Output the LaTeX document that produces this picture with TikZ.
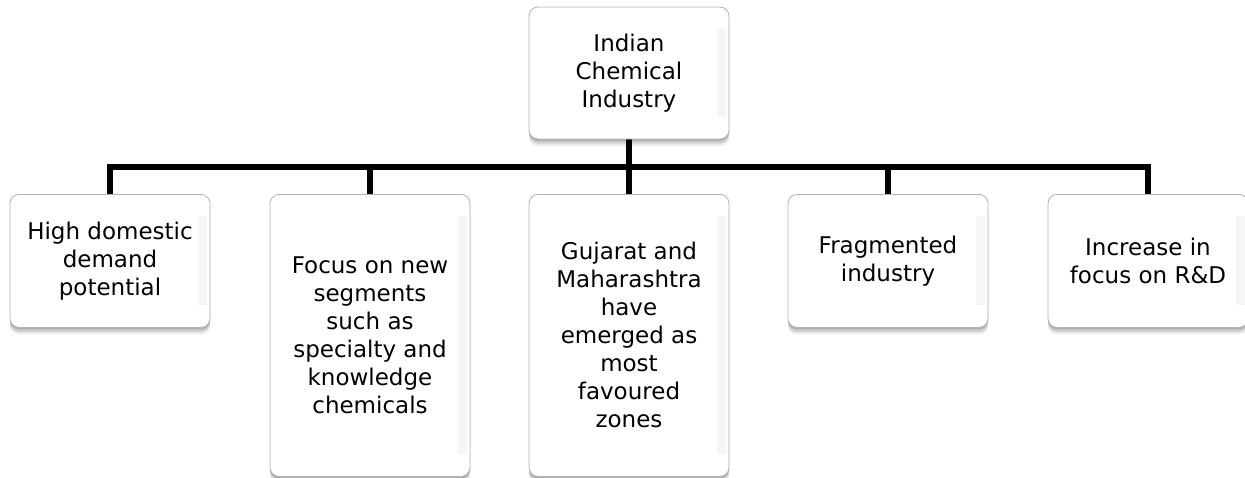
\documentclass[tikz,border=0pt]{standalone}
\usepackage{fontspec}
\setmainfont{DejaVu Sans}
\usetikzlibrary{shadows,backgrounds}
\begin{document}
\begin{tikzpicture}[x=1pt,y=-1pt,
  box/.style={draw=gray!60, line width=0.8pt, fill=white, rounded corners=9pt,
    minimum width=200pt, align=center, inner sep=0pt,
    font=\fontsize{23}{28}\selectfont,
    general shadow={shadow xshift=0pt, shadow yshift=-7pt, fill=black, opacity=0.08},
    general shadow={shadow xshift=0pt, shadow yshift=-4.5pt, fill=black, opacity=0.12},
    general shadow={shadow xshift=0pt, shadow yshift=-2pt, fill=black, opacity=0.15},
    path picture={\fill[sharp corners, gray!7]
      ([xshift=-12pt,yshift=-22pt]path picture bounding box.north east) rectangle
      ([xshift=-3pt,yshift=22pt]path picture bounding box.south east);}},
  conn/.style={line width=6pt, draw=black, line join=miter}]
\useasboundingbox (0,0) rectangle (1245,477);
\node[box, minimum height=132pt] (top) at (629,73) {Indian\\Chemical\\Industry};
\node[box, minimum height=133pt, anchor=north] (b1) at (110,194) {High domestic\\demand\\potential};
\node[box, minimum height=282pt, anchor=north] (b2) at (370,194) {Focus on new\\segments\\such as\\specialty and\\knowledge\\chemicals};
\node[box, minimum height=282pt, anchor=north] (b3) at (629,194) {Gujarat and\\Maharashtra\\have\\emerged as\\most\\favoured\\zones};
\node[box, minimum height=133pt, anchor=north] (b4) at (888,194) {Fragmented\\industry};
\node[box, minimum height=133pt, anchor=north] (b5) at (1148,194) {Increase in\\focus on R\&D};
\coordinate (bar) at (629,166.5);
\begin{scope}[on background layer]
\draw[conn] (top.south) -- (bar) -| (b1.north);
\draw[conn] (top.south) -- (bar) -| (b2.north);
\draw[conn] (top.south) -- (b3.north);
\draw[conn] (top.south) -- (bar) -| (b4.north);
\draw[conn] (top.south) -- (bar) -| (b5.north);
\end{scope}
\end{tikzpicture}
\end{document}
